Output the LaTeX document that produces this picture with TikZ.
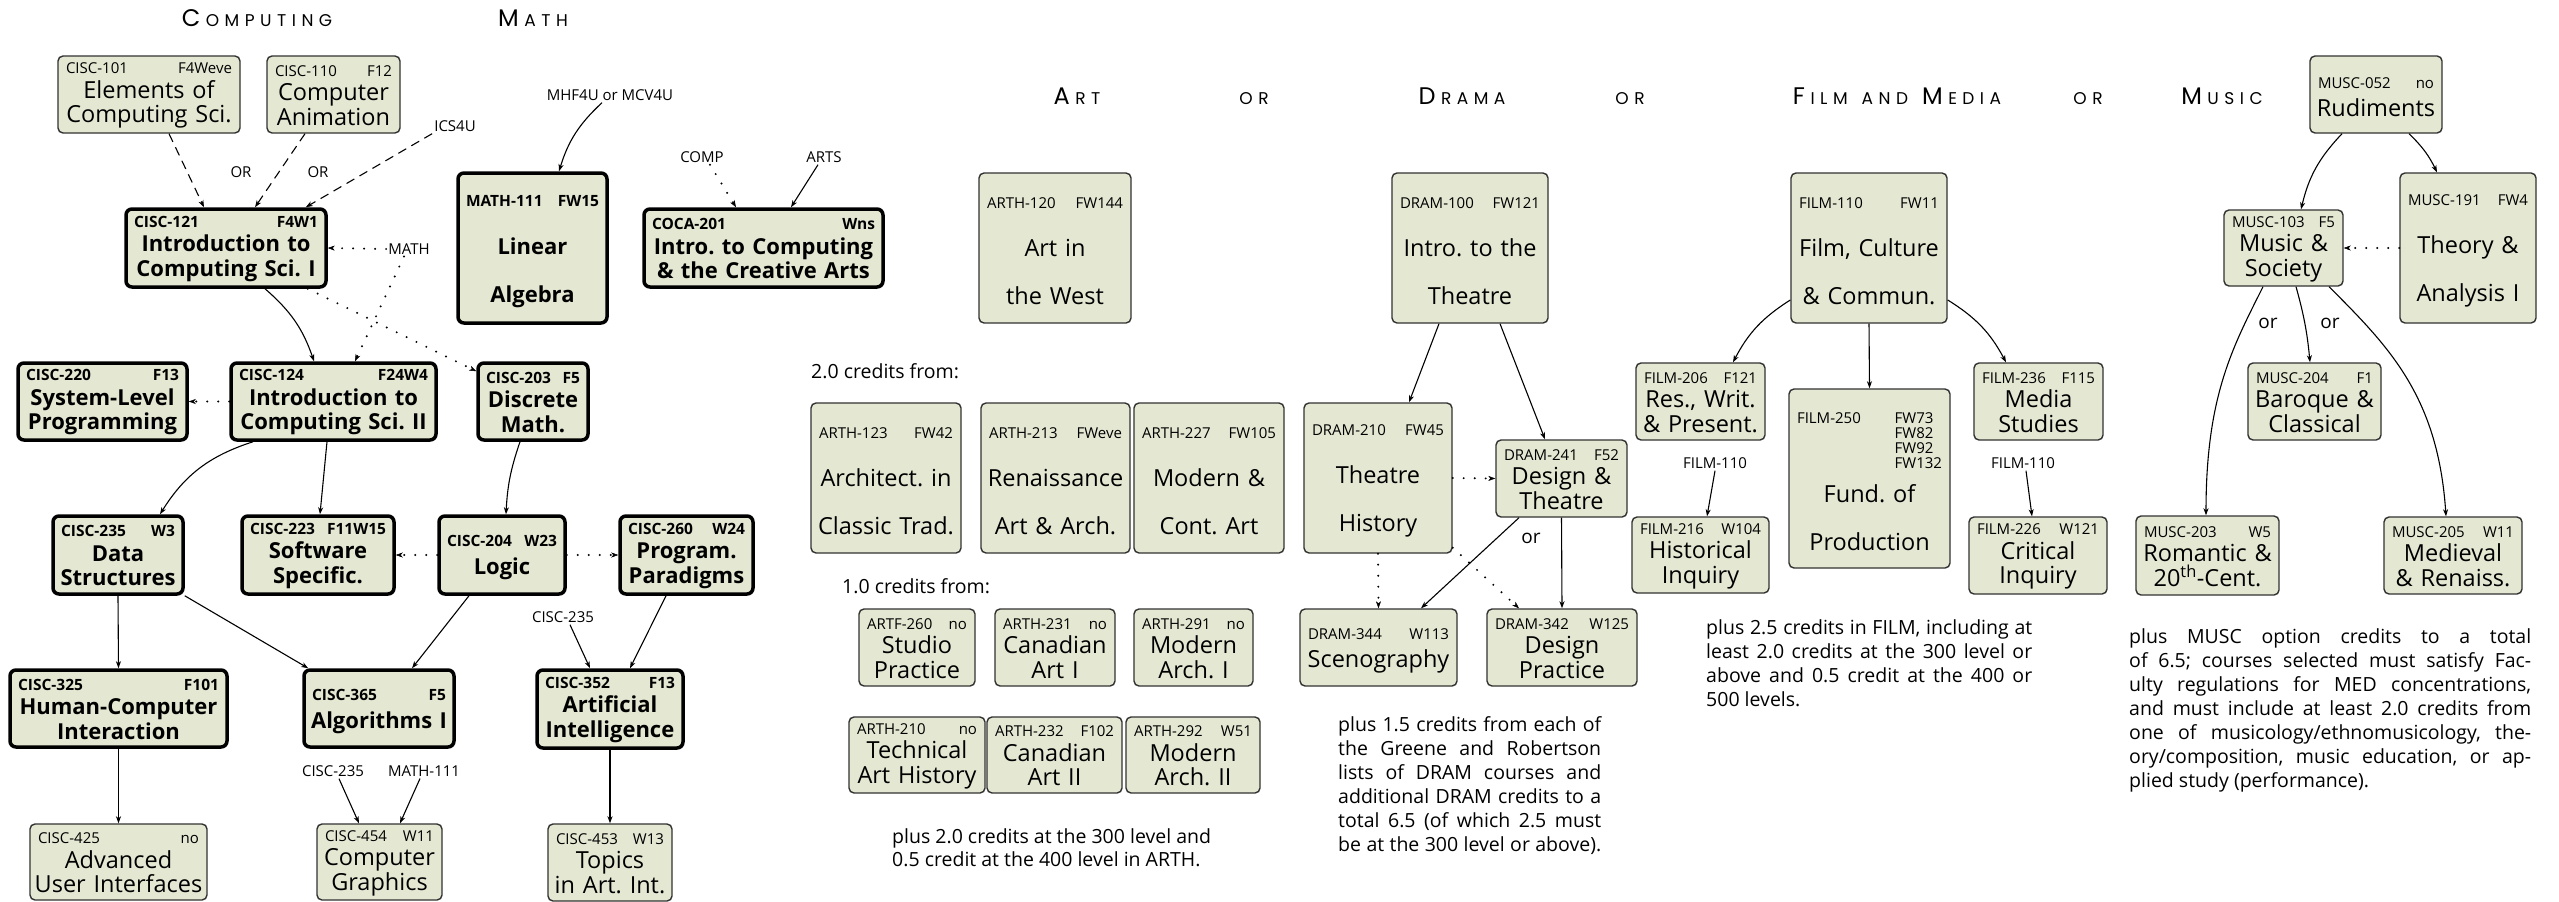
\documentclass[tikz,border=0pt]{standalone}
\usepackage{fontspec}
\setmainfont{Open Sans}
\newfontfamily\headfont{Poppins}
\usetikzlibrary{arrows.meta}
\setlength\parindent{0pt}
\frenchspacing
\definecolor{boxfill}{RGB}{228,232,210}
\definecolor{thinline}{RGB}{50,50,50}
\newdimen\lsk \lsk=5.5pt
\makeatletter
\newcommand\spl[1]{\@tfor\@ch:=#1\do{\kern\lsk\@ch}}
\makeatother
\newcommand\hsc[2]{{\headfont\fontsize{24}{24}\selectfont #1}{\headfont\fontsize{17}{17}\selectfont\spl{#2}}}
\newcommand\hsm[2]{{\headfont\fontsize{17}{17}\selectfont #1\spl{#2}}}
\newcommand\hdreg{\fontsize{15}{18}\selectfont}
\newcommand\hdbold{\fontsize{15.5}{18}\bfseries\selectfont}
\newcommand\hd[2]{\noindent\makebox[\hsize]{\hdcur\rule{0pt}{\hdstrut}#1\hfill #2}\par}
\newcommand\bl[1]{\noindent\makebox[\hsize]{#1}\par}
\newcommand\jl[1]{\noindent\makebox[\hsize][s]{#1}\par}
\newcommand\fthin{\frenchspacing\fontsize{23.5}{24.5}\selectfont\let\hdcur\hdreg\def\hdstrut{13pt}}
\newcommand\fthintall{\frenchspacing\fontsize{23.5}{48}\selectfont\let\hdcur\hdreg\def\hdstrut{17.4pt}}
\newcommand\fthintwo{\frenchspacing\fontsize{23.5}{28}\selectfont\let\hdcur\hdreg\def\hdstrut{17pt}}
\newcommand\fthick{\frenchspacing\fontsize{22}{24.5}\bfseries\selectfont\let\hdcur\hdbold\def\hdstrut{13pt}}
\newcommand\fthicktall{\frenchspacing\fontsize{22}{48}\bfseries\selectfont\let\hdcur\hdbold\def\hdstrut{17.4pt}}
\newcommand\fthicktwo{\frenchspacing\fontsize{22}{28}\bfseries\selectfont\let\hdcur\hdbold\def\hdstrut{17pt}}
\newcommand\fprose{\frenchspacing\fontsize{19.5}{24}\selectfont}
\tikzset{
  bx/.style n args={4}{at={({((#1)+(#3))/2},{((#2)+(#4))/2})},
    minimum width={(#3)-(#1)}, minimum height={(#4)-(#2)},
    /utils/exec={\pgfmathsetlengthmacro\cwid{(#3)-(#1)-16}}, text width=\cwid},
  cbase/.style={fill=boxfill, inner sep=0pt, align=center},
  cthin/.style={cbase, draw=thinline, line width=1.4pt, rounded corners=5pt, font=\fthin},
  cthintall/.style={cthin, font=\fthintall},
  cthintwo/.style={cthin, font=\fthintwo},
  cthick/.style={cbase, draw=black, line width=3.5pt, rounded corners=6pt, font=\fthick},
  cthicktall/.style={cthick, font=\fthicktall},
  cthicktwo/.style={cthick, font=\fthicktwo},
  lab/.style={inner sep=2pt, font=\fontsize{15}{18}\selectfont},
  orl/.style={inner sep=2pt, font=\fontsize{19}{22}\selectfont},
  head/.style={anchor=base, inner sep=0pt},
  prose/.style={anchor=north west, inner sep=0pt, align=justify, font=\fprose},
  arr/.style={-{Stealth[length=7pt,width=5pt,inset=2pt]}, line width=1.1pt},
  dsh/.style={arr, dash pattern=on 9pt off 6pt},
  dotarr/.style={-{Stealth[length=7pt,width=5pt,inset=2pt,line width=0.5pt]}, line width=2.2pt, line cap=round, dash pattern=on 0pt off 11pt},
}
\begin{document}
\begin{tikzpicture}[x=1pt,y=-1pt]
\fill[white] (0,0) rectangle (2559,902);
\useasboundingbox (0,0) rectangle (2559,902);

% headings
\node[head] (hcomp) at (257,26.7) {\hsc{C}{OMPUTING}};
\node[head] (hmath) at (533,26.7) {\hsc{M}{ATH}};
\node[head] (hart) at (1077,104) {\hsc{A}{RT}};
\node[head] (hor1) at (1254,104) {\hsm{O}{R}};
\node[head] (hdram) at (1462,104) {\hsc{D}{RAMA}};
\node[head] (hor2) at (1630,104) {\hsm{O}{R}};
\node[head] (hfilm) at (1897,104) {\hsc{F}{ILM}\hspace{14pt}\hsm{A}{ND}\hspace{14pt}\hsc{M}{EDIA}};
\node[head] (hor3) at (2088,104) {\hsm{O}{R}};
\node[head] (hmus) at (2222,104) {\hsc{M}{USIC}};

% computing boxes
\node[cthin, bx={58}{56}{240}{133}] (cisc101) {\hd{CISC-101}{F4Weve}\bl{Elements of}\bl{Computing Sci.}};
\node[cthin, bx={267}{56}{400}{133}] (cisc110) {\hd{CISC-110}{F12}\bl{Computer}\bl{Animation}};
\node[cthick, bx={126}{209}{326}{287}] (cisc121) {\hd{CISC-121}{F4W1}\bl{Introduction to}\bl{Computing Sci. I}};
\node[cthicktall, bx={458}{173}{607}{323}] (math111) {\hd{MATH-111}{FW15}\bl{Linear}\bl{Algebra}};
\node[cthick, bx={644}{209}{883}{287}] (coca201) {\hd{COCA-201}{Wns}\bl{Intro. to Computing}\bl{\& the Creative Arts}};
\node[cthick, bx={18}{363}{187}{440}] (cisc220) {\hd{CISC-220}{F13}\bl{System-Level}\bl{Programming}};
\node[cthick, bx={231}{363}{436}{440}] (cisc124) {\hd{CISC-124}{F24W4}\bl{Introduction to}\bl{Computing Sci. II}};
\node[cthick, bx={478}{363}{588}{440}] (cisc203) {\hd{CISC-203}{F5}\bl{Discrete}\bl{Math.}};
\node[cthick, bx={53}{516}{183}{594}] (cisc235) {\hd{CISC-235}{W3}\bl{Data}\bl{Structures}};
\node[cthick, bx={242}{516}{394}{594}] (cisc223) {\hd{CISC-223}{F11W15}\bl{Software}\bl{Specific.}};
\node[cthicktwo, bx={439}{516}{565}{594}] (cisc204) {\hd{CISC-204}{W23}\bl{Logic}};
\node[cthick, bx={620}{516}{753}{594}] (cisc260) {\hd{CISC-260}{W24}\bl{Program.}\bl{Paradigms}};
\node[cthick, bx={10}{670}{227}{747}] (cisc325) {\hd{CISC-325}{F101}\bl{Human-Computer}\bl{Interaction}};
\node[cthicktwo, bx={304}{670}{454}{747}] (cisc365) {\hd{CISC-365}{F5}\bl{Algorithms I}};
\node[cthick, bx={537}{670}{683}{748}] (cisc352) {\hd{CISC-352}{F13}\bl{Artificial}\bl{Intelligence}};
\node[cthin, bx={30}{824}{207}{900}] (cisc425) {\hd{CISC-425}{no}\bl{Advanced}\bl{User Interfaces}};
\node[cthin, bx={317}{824}{442}{900}] (cisc454) {\hd{CISC-454}{W11}\bl{Computer}\bl{Graphics}};
\node[cthin, bx={548}{824}{672}{901}] (cisc453) {\hd{CISC-453}{W13}\bl{Topics}\bl{in Art. Int.}};

% art boxes
\node[cthintall, bx={979}{173}{1131}{323}] (arth120) {\hd{ARTH-120}{FW144}\bl{Art in}\bl{the West}};
\node[cthintall, bx={811}{403}{961}{553}] (arth123) {\hd{ARTH-123}{FW42}\bl{Architect. in}\bl{Classic Trad.}};
\node[cthintall, bx={981}{403}{1130}{553}] (arth213) {\hd{ARTH-213}{FWeve}\bl{Renaissance}\bl{Art \& Arch.}};
\node[cthintall, bx={1134}{403}{1284}{553}] (arth227) {\hd{ARTH-227}{FW105}\bl{Modern \&}\bl{Cont. Art}};
\node[cthin, bx={859}{609}{975}{686}] (artf260) {\hd{ARTF-260}{no}\bl{Studio}\bl{Practice}};
\node[cthin, bx={995}{609}{1115}{686}] (arth231) {\hd{ARTH-231}{no}\bl{Canadian}\bl{Art I}};
\node[cthin, bx={1134}{609}{1253}{686}] (arth291) {\hd{ARTH-291}{no}\bl{Modern}\bl{Arch. I}};
\node[cthin, bx={849}{717}{985}{793}] (arth210) {\hd{ARTH-210}{no}\bl{Technical}\bl{Art History}};
\node[cthin, bx={987}{717}{1122}{793}] (arth232) {\hd{ARTH-232}{F102}\bl{Canadian}\bl{Art II}};
\node[cthin, bx={1126}{717}{1260}{793}] (arth292) {\hd{ARTH-292}{W51}\bl{Modern}\bl{Arch. II}};

% drama boxes
\node[cthintall, bx={1392}{173}{1548}{323}] (dram100) {\hd{DRAM-100}{FW121}\bl{Intro. to the}\bl{Theatre}};
\node[cthintall, bx={1304}{403}{1452}{553}] (dram210) {\hd{DRAM-210}{FW45}\bl{Theatre}\bl{History}};
\node[cthin, bx={1496}{440}{1627}{517}] (dram241) {\hd{DRAM-241}{F52}\bl{Design \&}\bl{Theatre}};
\node[cthintwo, bx={1300}{609}{1457}{686}] (dram344) {\hd{DRAM-344}{W113}\bl{Scenography}};
\node[cthin, bx={1487}{609}{1637}{686}] (dram342) {\hd{DRAM-342}{W125}\bl{Design}\bl{Practice}};

% film boxes
\node[cthintall, bx={1791}{173}{1947}{323}] (film110) {\hd{FILM-110}{FW11}\bl{Film, Culture}\bl{\& Commun.}};
\node[cthin, bx={1636}{363}{1765}{440}] (film206) {\hd{FILM-206}{F121}\bl{Res., Writ.}\bl{\& Present.}};
\node[cthintall, bx={1789}{389}{1950}{568}] (film250) {\hd{FILM-250}{\smash{\renewcommand\arraystretch{0.76}\begin{tabular}[t]{@{}l@{}}FW73\\FW82\\FW92\\FW132\end{tabular}}}\vspace{31pt}\bl{Fund. of}\bl{Production}};
\node[cthin, bx={1974}{363}{2103}{440}] (film236) {\hd{FILM-236}{F115}\bl{Media}\bl{Studies}};
\node[cthin, bx={1632}{517}{1769}{593}] (film216) {\hd{FILM-216}{W104}\bl{Historical}\bl{Inquiry}};
\node[cthin, bx={1969}{517}{2107}{594}] (film226) {\hd{FILM-226}{W121}\bl{Critical}\bl{Inquiry}};

% music boxes
\node[cthintwo, bx={2310}{56}{2442}{133}] (musc052) {\hd{MUSC-052}{no}\bl{Rudiments}};
\node[cthin, bx={2224}{210}{2343}{286}] (musc103) {\hd{MUSC-103}{F5}\bl{Music \&}\bl{Society}};
\node[cthintall, bx={2400}{173}{2536}{323}] (musc191) {\hd{MUSC-191}{FW4}\bl{Theory \&}\bl{Analysis I}};
\node[cthin, bx={2248}{363}{2381}{440}] (musc204) {\hd{MUSC-204}{F1}\bl{Baroque \&}\bl{Classical}};
\node[cthin, bx={2136}{516}{2279}{595}] (musc203) {\hd{MUSC-203}{W5}\bl{Romantic \&}\bl{20\textsuperscript{th}-Cent.}};
\node[cthin, bx={2384}{517}{2522}{594}] (musc205) {\hd{MUSC-205}{W11}\bl{Medieval}\bl{\& Renaiss.}};

% labels
\node[lab] (lor1) at (241,172) {OR};
\node[lab] (lor2) at (318,172) {OR};
\node[lab] (lics) at (455,126) {ICS4U};
\node[lab] (lmath) at (409,249) {MATH};
\node[lab] (lmhf) at (610,95) {MHF4U or MCV4U};
\node[lab] (lcomp) at (702,157) {COMP};
\node[lab] (larts) at (824,157) {ARTS};
\node[lab] (l235a) at (563,617) {CISC-235};
\node[lab] (l235b) at (333,771) {CISC-235};
\node[lab] (lm111) at (424,771) {MATH-111};
\node[lab] (lf1) at (1715,463) {FILM-110};
\node[lab] (lf2) at (2023,463) {FILM-110};
\node[orl] (lor3) at (1531,538) {or};
\node[orl] (lor4) at (2268,323) {or};
\node[orl] (lor5) at (2330,323) {or};

% prose
\node[anchor=base west, inner sep=0pt, font=\fprose] (t20) at (811,378) {2.0 credits from:};
\node[anchor=base west, inner sep=0pt, font=\fprose] (t10) at (842,593) {1.0 credits from:};
\node[prose, text width=340pt, font=\frenchspacing\fontsize{19.5}{23}\selectfont] (part) at (892,828) {plus 2.0 credits at the 300 level and\par 0.5 credit at the 400 level in ARTH.};
\node[prose, text width=263pt] (pdram) at (1338,716) {\jl{plus 1.5 credits from each of}\jl{the Greene and Robertson}\jl{lists of DRAM courses and}\jl{additional DRAM credits to a}\jl{total 6.5 (of which 2.5 must}\jl{be at the 300 level or above).}};
\node[prose, text width=326pt] (pfilm) at (1706,619) {\jl{plus 2.5 credits in FILM, including at}\jl{least 2.0 credits at the 300 level or}\jl{above and 0.5 credit at the 400 or}500 levels.};
\node[prose, text width=402pt] (pmus) at (2129,628) {\jl{plus MUSC option credits to a total}\jl{of 6.5; courses selected must satisfy Fac-}\jl{ulty regulations for MED concentrations,}\jl{and must include at least 2.0 credits from}\jl{one of musicology/ethnomusicology, the-}\jl{ory/composition, music education, or ap-}plied study (performance).};

% computing connectors
\draw[dsh] ([xshift=20pt]cisc101.south) -- ([xshift=-22pt]cisc121.north);
\draw[dsh] ([xshift=-28.5pt]cisc110.south) -- ([xshift=29pt]cisc121.north);
\draw[dsh] (lics.south west) -- ([xshift=-22pt]cisc121.north east);
\draw[dotarr] (lmath.west) -- (cisc121.east);
\draw[dotarr] ([xshift=-5pt]lmath.south) -- ([xshift=21.5pt]cisc124.north);
\draw[dotarr] ([xshift=-20pt]cisc121.south east) -- ([yshift=-10pt]cisc203.north west);
\draw[arr] ([xshift=39pt]cisc121.south) to[bend left=15] ([xshift=-19.5pt]cisc124.north);
\draw[dotarr] (cisc124.west) -- (cisc220.east);
\draw[arr] ([xshift=-80.5pt]cisc124.south) to[bend right=20] ([xshift=42pt]cisc235.north);
\draw[arr] ([xshift=-6.5pt]cisc124.south) -- ([xshift=2pt]cisc223.north);
\draw[arr] ([xshift=-13pt]cisc203.south) to[bend right=8] ([xshift=4pt]cisc204.north);
\draw[dotarr] (cisc204.west) -- (cisc223.east);
\draw[dotarr] (cisc204.east) -- (cisc260.west);
\draw[arr] (cisc235.south) -- (cisc325.north);
\draw[arr] (cisc235.south east) -- ([xshift=6pt]cisc365.north west);
\draw[arr] ([xshift=-33pt]cisc204.south) -- ([xshift=33pt]cisc365.north);
\draw[arr] ([xshift=7pt]l235a.south) -- ([xshift=-20pt]cisc352.north);
\draw[arr] ([xshift=-20.5pt]cisc260.south) -- ([xshift=20pt]cisc352.north);
\draw[arr] (cisc325.south) -- (cisc425.north);
\draw[arr] ([xshift=6pt]l235b.south) -- ([xshift=-20.5pt]cisc454.north);
\draw[arr] ([xshift=-4pt]lm111.south) -- ([xshift=20.5pt]cisc454.north);
\draw[arr] (cisc352.south) -- (cisc453.north);
\draw[arr] ([xshift=-8pt]lmhf.south) to[bend right=15] ([xshift=26.5pt]math111.north);
\draw[dotarr] ([xshift=8pt]lcomp.south) -- ([xshift=-27.5pt]coca201.north);
\draw[arr] ([xshift=-6pt]larts.south) -- ([xshift=27.5pt]coca201.north);

% drama connectors
\draw[arr] ([xshift=-31pt]dram100.south) -- ([xshift=31pt]dram210.north);
\draw[arr] ([xshift=30pt]dram100.south) -- ([xshift=-16.5pt]dram241.north);
\draw[dotarr] (dram210.east) -- (dram241.west);
\draw[arr] ([xshift=-42.5pt]dram241.south) -- ([xshift=42.5pt]dram344.north);
\draw[arr] (dram241.south) -- (dram342.north);
\draw[dotarr] (dram210.south) -- (dram344.north);
\draw[dotarr] ([yshift=6pt]dram210.south east) -- ([xshift=-43pt]dram342.north);

% film connectors
\draw[arr] ([yshift=-52pt]film110.west) to[bend right=15] ([xshift=32.5pt]film206.north);
\draw[arr] (film110.south) -- (film250.north);
\draw[arr] ([yshift=-52pt]film110.east) to[bend left=15] ([xshift=-32.5pt]film236.north);
\draw[arr] (lf1.south) -- ([xshift=6.5pt]film216.north);
\draw[arr] ([xshift=3pt]lf2.south) -- ([xshift=-6pt]film226.north);

% music connectors
\draw[arr] ([xshift=-34pt]musc052.south) to[bend right=15] ([xshift=17.5pt]musc103.north);
\draw[arr] ([xshift=33pt]musc052.south) to[bend left=10] ([xshift=-31pt]musc191.north);
\draw[dotarr] (musc191.west) -- (musc103.east);
\draw[arr] ([xshift=12.5pt]musc103.south) to[bend left=5] ([xshift=-4.5pt]musc204.north);
\draw[arr] ([xshift=-20.5pt]musc103.south) .. controls +(-30,60) and +(0,-120) .. ([xshift=-1.5pt]musc203.north);
\draw[arr] ([xshift=45.5pt]musc103.south) .. controls +(60,60) and +(-8,-120) .. ([xshift=-7pt]musc205.north);
\end{tikzpicture}
\end{document}
